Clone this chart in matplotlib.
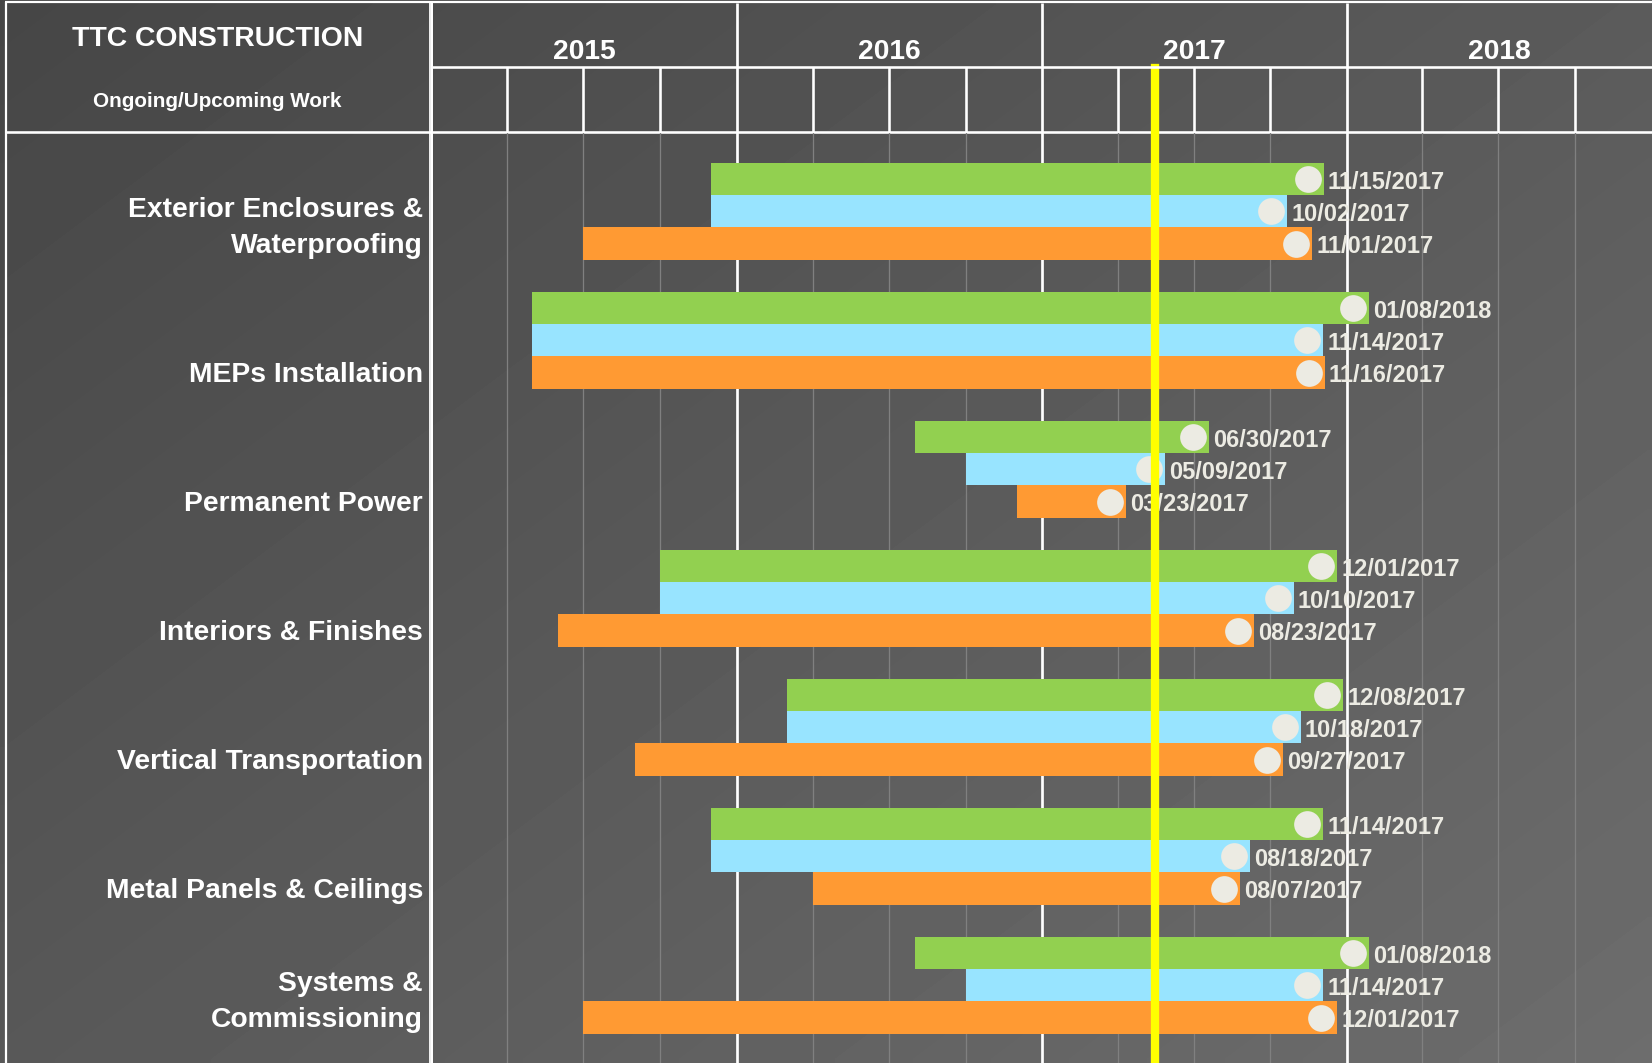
import matplotlib
matplotlib.use('Agg')
import matplotlib.pyplot as plt
import matplotlib.dates as mdates
import numpy as np
from datetime import date, datetime

plt.rcParams['font.family'] = ['Liberation Sans', 'DejaVu Sans']

# ---------------- data ----------------
categories = ["Exterior Enclosures &\nWaterproofing", "MEPs Installation", "Permanent Power",
              "Interiors & Finishes", "Vertical Transportation", "Metal Panels & Ceilings",
              "Systems &\nCommissioning"]

green_start = ["12/01/2015", "05/01/2015", "08/01/2016", "10/01/2015", "03/01/2016", "12/01/2015", "08/01/2016"]
green_end = ["11/15/2017", "01/08/2018", "06/30/2017", "12/01/2017", "12/08/2017", "11/14/2017", "01/08/2018"]
blue_start = ["12/01/2015", "05/01/2015", "10/01/2016", "10/01/2015", "03/01/2016", "12/01/2015", "10/01/2016"]
blue_end = ["10/02/2017", "11/14/2017", "05/09/2017", "10/10/2017", "10/18/2017", "08/18/2017", "11/14/2017"]
orange_start = ["07/01/2015", "05/01/2015", "12/01/2016", "06/01/2015", "09/01/2015", "04/01/2016", "07/01/2015"]
orange_end = ["11/01/2017", "11/16/2017", "03/23/2017", "08/23/2017", "09/27/2017", "08/07/2017", "12/01/2017"]

today = "05/16/2017"
years = [2015, 2016, 2017, 2018]

title = "TTC CONSTRUCTION"
subtitle = "Ongoing/Upcoming Work"

# ---------------- style ----------------
W, H = 1652, 1063
LEFT_X = 432          # chart start (px)
TOP_Y = 133           # chart top (px from top)
HEAD_TOP = 3
HEAD_MID = 67
HEAD_BOT = 132
GREEN = "#92d050"
BLUE = "#98e4ff"
ORANGE = "#ff9a33"
BEIGE = "#ecebe3"
GRID = "#808080"
YELLOW = "#ffff00"
PX = 0.72  # points per pixel at dpi 100


def dn(s):
    return mdates.date2num(datetime.strptime(s, "%m/%d/%Y"))


fig = plt.figure(figsize=(W / 100, H / 100), dpi=100)

# background gradient
ax_bg = fig.add_axes([0, 0, 1, 1])
ax_bg.set_xlim(0, W)
ax_bg.set_ylim(H, 0)
ax_bg.axis('off')
gx = np.linspace(0, 1, 200)
gy = np.linspace(0, 1, 130)
GX, GY = np.meshgrid(gx, gy)
grad = 70 + 21 * GX + 18 * GY
ax_bg.imshow(grad, cmap='gray', vmin=0, vmax=255, extent=[0, W, H, 0],
             aspect='auto', interpolation='bilinear', zorder=0)

# frame lines (pixel space)
ax_bg.plot([5, W], [2, 2], color='white', lw=2.2 * PX, zorder=2, solid_capstyle='butt')
ax_bg.plot([6, 6], [2, H], color='white', lw=2.2 * PX, zorder=2, solid_capstyle='butt')
ax_bg.plot([6, W], [HEAD_BOT, HEAD_BOT], color='white', lw=2.6 * PX, zorder=2, solid_capstyle='butt')
ax_bg.plot([429.5, 429.5], [2, H], color='white', lw=1.8 * PX, zorder=2, solid_capstyle='butt')
ax_bg.plot([LEFT_X + 0.3, LEFT_X + 0.3], [2, H], color='white', lw=2.0 * PX, zorder=2, solid_capstyle='butt')

ax_bg.text(217.5, 45.7, title, color='white', fontsize=20.4, fontweight='bold',
           ha='center', va='baseline', zorder=3)
ax_bg.text(217, 107.3, subtitle, color='white', fontsize=14.9, fontweight='bold',
           ha='center', va='baseline', zorder=3)

# ---------------- main axes ----------------
x0 = mdates.date2num(date(years[0], 1, 1))
x1 = mdates.date2num(date(years[-1] + 1, 1, 1))
ax = fig.add_axes([LEFT_X / W, 0, (W - LEFT_X) / W, (H - TOP_Y) / H])
ax.set_facecolor('none')
ax.set_xlim(x0, x1)
unit = 32.25
ax.set_ylim((H - TOP_Y) / unit, 0)
ax.axis('off')

px_per_day = (W - LEFT_X) / (x1 - x0)
ext = 16 / px_per_day

# grid
for yr in years:
    for q in range(4):
        xq = mdates.date2num(date(yr, 1 + 3 * q, 1))
        if q == 0:
            if yr != years[0]:
                ax.axvline(xq, color='white', lw=2.7 * PX, zorder=1)
        else:
            ax.axvline(xq, color=GRID, lw=1.3 * PX, zorder=1)

series = [(green_start, green_end, GREEN), (blue_start, blue_end, BLUE), (orange_start, orange_end, ORANGE)]
offset0 = 0.93
for k, cat in enumerate(categories):
    for j, (ss, ee, col) in enumerate(series):
        yc = offset0 + 4 * k + j + 0.5
        s = dn(ss[k])
        e = dn(ee[k])
        ax.barh(yc, e + ext - s, left=s, height=1.0, color=col, zorder=2, linewidth=0)
        ax.scatter([e], [yc], s=370, color=BEIGE, zorder=3, linewidths=0)
        ax.annotate(ee[k], xy=(e + ext, yc), xytext=(4, -9.5), textcoords='offset pixels',
                    color=BEIGE, fontsize=17.0, fontweight='bold', ha='left', va='baseline',
                    zorder=4, annotation_clip=False)
    # category label
    lines = cat.split("\n")
    yc_or = offset0 + 4 * k + 2 + 0.5
    n = len(lines)
    for i, ln in enumerate(lines):
        ax.annotate(ln, xy=(423, yc_or), xycoords=('figure pixels', 'data'),
                    xytext=(0, -9 + 36 * (n - 1 - i)), textcoords='offset pixels',
                    color='white', fontsize=20.3, fontweight='bold', ha='right', va='baseline',
                    annotation_clip=False)

# today line
xt = dn(today)
ax.axvline(xt, ymin=0, ymax=1 + (TOP_Y - 68) / (H - TOP_Y), color=YELLOW, lw=8.3 * PX,
           zorder=10, clip_on=False)

# ---------------- header axes ----------------
axh = fig.add_axes([LEFT_X / W, (H - HEAD_BOT) / H, (W - LEFT_X) / W, (HEAD_BOT - HEAD_TOP) / H])
axh.set_facecolor('none')
axh.set_xlim(x0, x1)
axh.set_ylim(HEAD_BOT, HEAD_TOP)
axh.axis('off')
axh.plot([x0, x1], [HEAD_MID, HEAD_MID], color='white', lw=2.6 * PX, solid_capstyle='butt')
for yr in years:
    ys = mdates.date2num(date(yr, 1, 1))
    ye = mdates.date2num(date(yr + 1, 1, 1))
    if yr != years[0]:
        axh.plot([ys, ys], [HEAD_TOP, HEAD_BOT], color='white', lw=2.7 * PX, solid_capstyle='butt')
    for q in range(1, 4):
        xq = mdates.date2num(date(yr, 1 + 3 * q, 1))
        axh.plot([xq, xq], [HEAD_MID, HEAD_BOT], color='white', lw=2.6 * PX, solid_capstyle='butt')
    axh.text((ys + ye) / 2, 59.3, str(yr), color='white', fontsize=20.3, fontweight='bold',
             ha='center', va='baseline')

fig.savefig("out.png", dpi=100)
